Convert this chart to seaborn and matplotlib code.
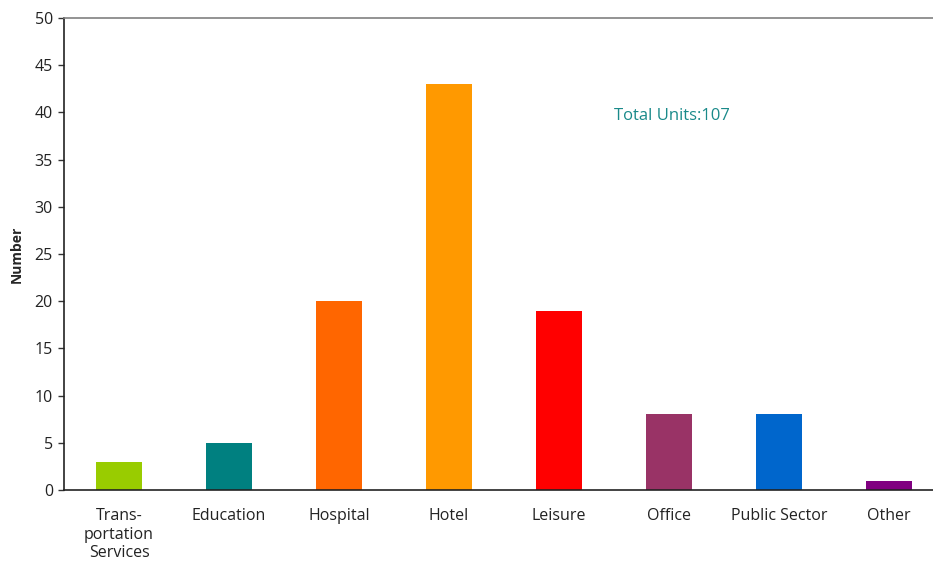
import matplotlib
matplotlib.use("Agg")
import matplotlib.pyplot as plt
import seaborn as sns
import pandas as pd
import numpy as np

categories = ["Trans-\nportation\nServices", "Education", "Hospital", "Hotel",
              "Leisure", "Office", "Public Sector", "Other"]
values = [3, 5, 20, 43, 19, 8, 8, 1]
colors = ["#99CC00", "#008080", "#FF6600", "#FF9900", "#FF0000", "#993366", "#0066CC", "#800080"]
y_ticks = [0, 5, 10, 15, 20, 25, 30, 35, 40, 45, 50]
annotation = "Total Units:107"

sns.set_style("white")
plt.rcParams['font.family'] = ['Open Sans', 'DejaVu Sans']

df = pd.DataFrame({"cat": categories, "val": values})

fig = plt.figure(figsize=(9.33, 5.61), dpi=100)
ax = fig.add_axes([64/933, 1-490/561, (944-64)/933, (490-18)/561])

sns.barplot(data=df, x="cat", y="val", hue="cat", palette=colors, legend=False,
            width=0.41, saturation=1, linewidth=0, ax=ax)

ax.set_ylim(0, 50)
ax.set_xlim(-0.5, len(categories)-0.5)
ax.set_yticks(y_ticks)
ax.set_yticklabels([str(t) for t in y_ticks], fontsize=11.5, color="#222222")
ax.set_xticks(range(len(categories)))
ax.set_xticklabels(categories, fontsize=11.5, color="#222222", linespacing=1.22)
ax.tick_params(axis="x", which="major", length=0, pad=13)
ax.set_xticks(np.arange(-0.5, len(categories)-0.5, 1) + 1, minor=True)
ax.tick_params(axis="x", which="minor", length=4, width=1, color="#555555", direction="out")
ax.tick_params(axis="y", length=4, width=1, color="#333333", direction="out", pad=4, left=True)

ax.set_xlabel("")
ax.set_ylabel("Number", fontsize=10, fontweight="bold")
ax.yaxis.set_label_coords((24-64)/880, 0.5)

for s in ["left", "bottom"]:
    ax.spines[s].set_color("#222222")
    ax.spines[s].set_linewidth(1.2)
ax.spines["top"].set_color("#808080")
ax.spines["top"].set_linewidth(1.2)
ax.spines["right"].set_visible(False)

ax.text(4.5, 39.6, annotation, color="#1A8A8A", fontsize=12, va="center", ha="left")

fig.savefig("out.png", dpi=100)
